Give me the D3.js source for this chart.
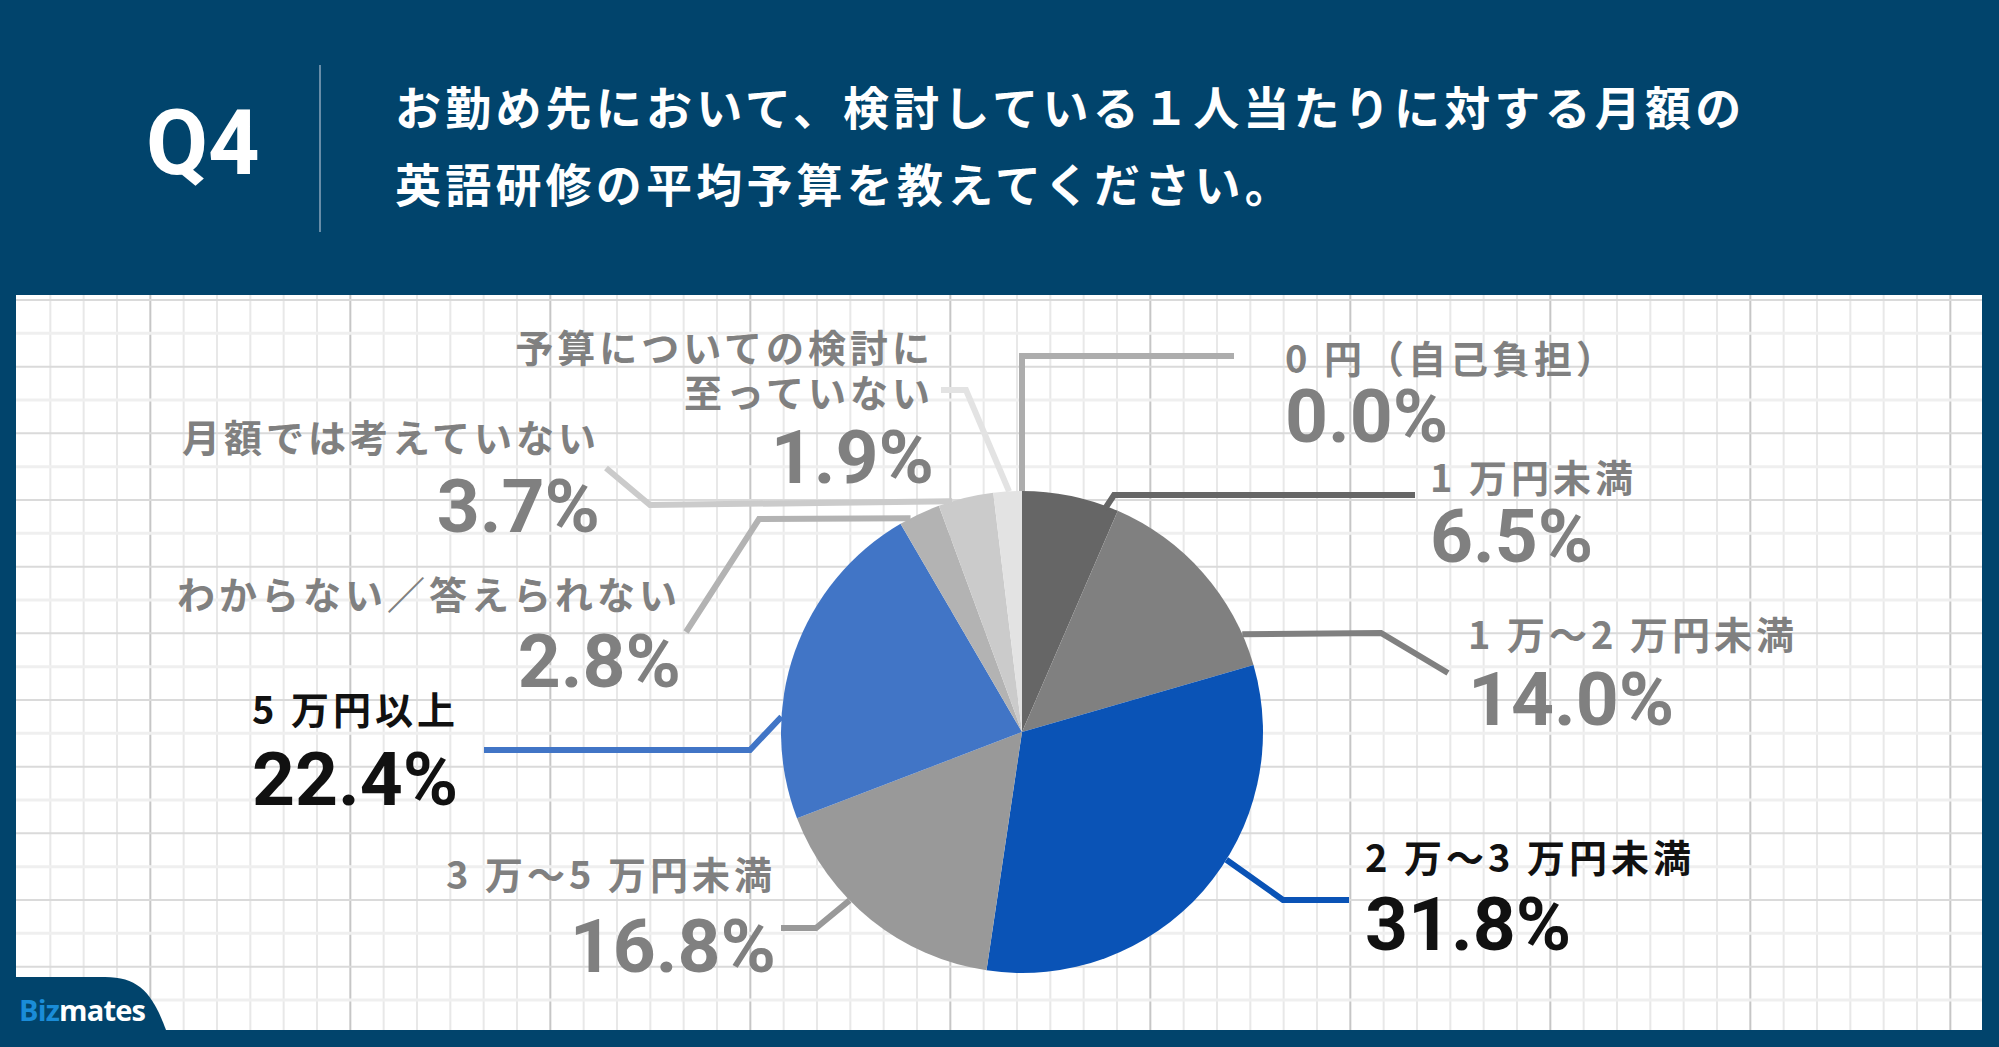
<!DOCTYPE html>
<html>
<head>
<meta charset="utf-8">
<script src="https://cdn.jsdelivr.net/npm/d3@7"></script>
<style>
  html, body { margin: 0; padding: 0; background: #01446C; }
  svg { display: block; }
</style>
</head>
<body>
<svg id="chart" width="1999" height="1047"></svg>
<script>
// ---- data ----
const categories = [
  "0 円（自己負担）",
  "1 万円未満",
  "1 万～2 万円未満",
  "2 万～3 万円未満",
  "3 万～5 万円未満",
  "5 万円以上",
  "わからない／答えられない",
  "月額では考えていない",
  "予算についての検討に至っていない"
];
const values = [0.0, 6.5, 14.0, 31.8, 16.8, 22.4, 2.8, 3.7, 1.9];
const titleLines = [
  "お勤め先において、検討している１人当たりに対する月額の",
  "英語研修の平均予算を教えてください。"
];
const questionLabel = "Q4";

// ---- styles / layout ----
const sliceColors = ["#ADADAD", "#666666", "#808080", "#0A53B6", "#999999", "#4175C6", "#B3B3B3", "#CBCBCB", "#E3E3E3"];
const labelColors = ["#808080", "#808080", "#808080", "#111111", "#808080", "#111111", "#808080", "#808080", "#808080"];
const labelLayout = [
  { x: 1285, anchor: "start", lines: [373], pctY: 442, frac: 0.0,  pts: [[1022, 356], [1234, 356]] },
  { x: 1430, anchor: "start", lines: [492], pctY: 562, frac: 0.87, pts: [[1114, 495], [1415, 495]] },
  { x: 1468, anchor: "start", lines: [649], pctY: 725, frac: 0.845, pts: [[1381, 633], [1448, 673]] },
  { x: 1365, anchor: "start", lines: [872], pctY: 950, frac: 0.42, pts: [[1283, 900], [1349, 900]] },
  { x: 776,  anchor: "end",   lines: [889], pctY: 972, frac: 0.615, pts: [[816, 928], [781, 928]] },
  { x: 252,  anchor: "start", lines: [724], pctY: 805, frac: 0.305, pts: [[750, 750], [484, 750]] },
  { x: 681,  anchor: "end",   lines: [609], pctY: 687, frac: 0.27, pts: [[759, 519], [686, 632]] },
  { x: 600,  anchor: "end",   lines: [452], pctY: 532, frac: 0.25, pts: [[650, 505], [606, 468]] },
  { x: 934,  anchor: "end",   lines: [362, 407], pctY: 483, frac: 0.55, pts: [[966, 390], [941, 390]] }
];
const labelSplit = [null, null, null, null, null, null, null, null, 10];

const W = 1999, H = 1047;
const svg = d3.select("#chart");
const bgColor = "#01446C";

svg.append("rect").attr("width", W).attr("height", H).attr("fill", bgColor);

// header
svg.append("text").text(questionLabel)
  .attr("x", 146).attr("y", 174)
  .attr("font-family", "Roboto, 'Noto Sans', sans-serif")
  .attr("font-weight", 700).attr("font-size", 90)
  .attr("fill", "#ffffff");
svg.append("line").attr("x1", 320).attr("x2", 320).attr("y1", 65).attr("y2", 232)
  .attr("stroke", "#8aa6bd").attr("stroke-width", 1.5);
svg.selectAll("text.title").data(titleLines).join("text")
  .attr("class", "title")
  .attr("x", 395).attr("y", (d, i) => 125 + i * 77)
  .attr("font-family", "'Noto Sans CJK JP', sans-serif")
  .attr("font-weight", 700).attr("font-size", 46)
  .attr("letter-spacing", 4.2)
  .attr("fill", "#ffffff")
  .text(d => d);

// panel
const panel = { x: 16, y: 295, w: 1966, h: 735 };
svg.append("rect").attr("x", panel.x).attr("y", panel.y).attr("width", panel.w).attr("height", panel.h).attr("fill", "#ffffff");
const grid = svg.append("g");
const vx = d3.range(17, panel.x + panel.w, 200 / 6).filter(x => x > panel.x + 1);
grid.selectAll("line.v").data(vx).join("line")
  .attr("x1", d => d).attr("x2", d => d).attr("y1", panel.y).attr("y2", panel.y + panel.h)
  .attr("stroke", d => (Math.round((d - 150) / (200 / 6)) % 6 === 0) ? "#c6c6c6" : "#e8e8e8")
  .attr("stroke-width", 2);
const hy = d3.range(300, panel.y + panel.h, 200 / 6);
grid.selectAll("line.h").data(hy).join("line")
  .attr("x1", panel.x).attr("x2", panel.x + panel.w).attr("y1", d => d).attr("y2", d => d)
  .attr("stroke", (d, i) => i % 2 === 0 ? "#dadada" : "#efefef")
  .attr("stroke-width", (d, i) => i % 2 === 0 ? 2 : 3);

// pie
const cx = 1022, cy = 732, R = 241;
const pie = d3.pie().sort(null).value(d => d)(values);
const arc = d3.arc().innerRadius(0).outerRadius(R);
const g = svg.append("g").attr("transform", `translate(${cx},${cy})`);
g.selectAll("path").data(pie).join("path")
  .attr("d", arc)
  .attr("fill", (d, i) => sliceColors[i]);

// leaders and labels
const lab = svg.append("g");
pie.forEach((p, i) => {
  const L = labelLayout[i];
  const a = p.startAngle + (p.endAngle - p.startAngle) * L.frac;
  const rr = i === 1 ? R - 3 : R;
  const start = [cx + rr * Math.sin(a), cy - rr * Math.cos(a)];
  const pts = [start].concat(L.pts);
  lab.append("path")
    .attr("d", d3.line()(pts))
    .attr("fill", "none")
    .attr("stroke", sliceColors[i])
    .attr("stroke-width", 6)
    .attr("stroke-linejoin", "miter");

  const name = categories[i];
  const parts = labelSplit[i] ? [name.slice(0, labelSplit[i]), name.slice(labelSplit[i])] : [name];
  parts.forEach((t, j) => {
    lab.append("text")
      .attr("x", L.x).attr("y", L.lines[j])
      .attr("text-anchor", L.anchor)
      .attr("font-family", "'Noto Sans CJK JP', sans-serif")
      .attr("font-weight", 600).attr("font-size", 38)
      .attr("letter-spacing", 4)
      .attr("fill", labelColors[i])
      .text(t);
  });
  lab.append("text")
    .attr("x", L.x).attr("y", L.pctY)
    .attr("text-anchor", L.anchor)
    .attr("font-family", "Roboto, 'Noto Sans', sans-serif")
    .attr("font-weight", 700).attr("font-size", 75)
    .attr("fill", labelColors[i])
    .text(values[i].toFixed(1) + "%");
});

// logo tab
svg.append("path")
  .attr("d", "M0,977 H105 C140,977 153,995 166,1030 V1047 H0 Z")
  .attr("fill", bgColor);
const logo = svg.append("text")
  .attr("x", 19).attr("y", 1021)
  .attr("font-family", "'Open Sans', sans-serif")
  .attr("font-weight", 700).attr("font-size", 29)
  .attr("letter-spacing", -0.8);
logo.append("tspan").attr("fill", "#1A8CD8").text("Biz");
logo.append("tspan").attr("fill", "#ffffff").text("mates");
</script>
</body>
</html>
